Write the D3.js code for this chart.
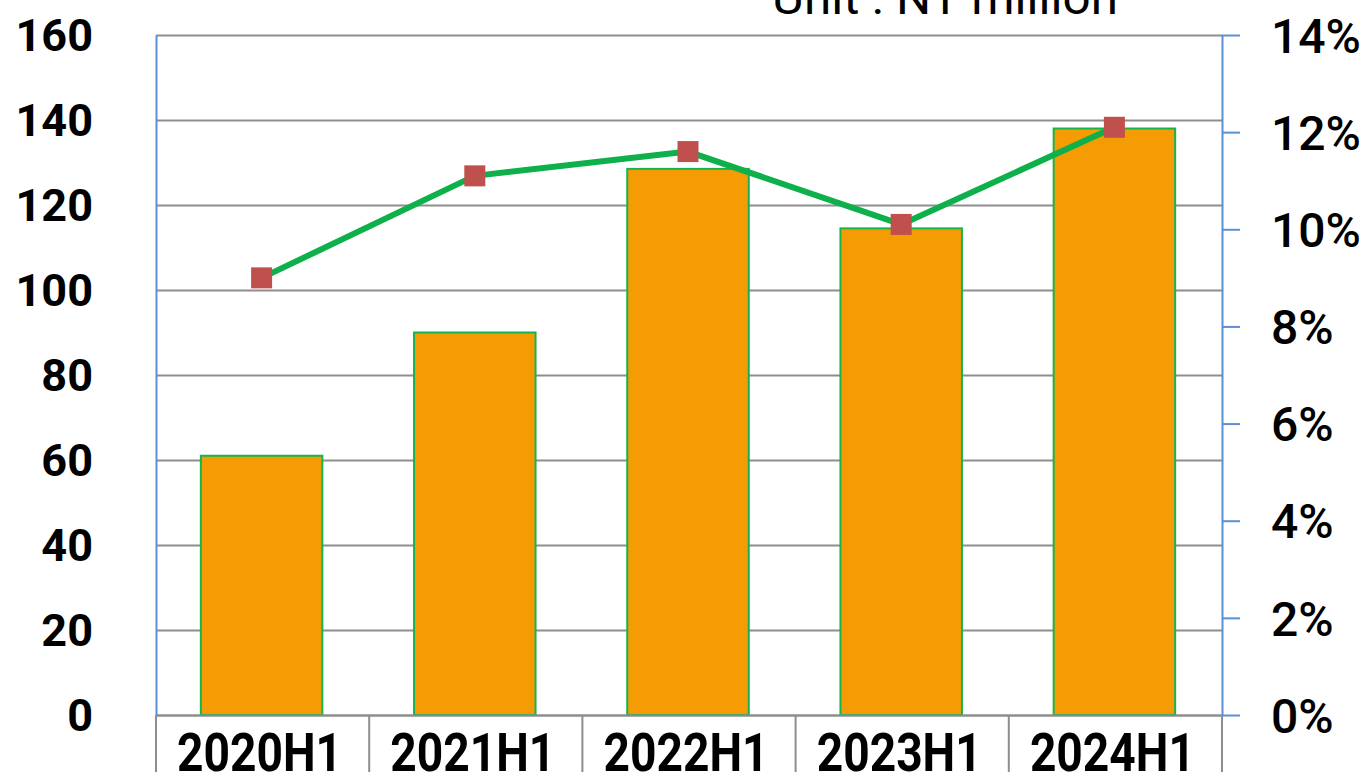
<!DOCTYPE html>
<html>
<head>
<meta charset="utf-8">
<script src="https://cdn.jsdelivr.net/npm/d3@7"></script>
<style>
  html, body { margin: 0; padding: 0; background: #fff; overflow: hidden; }
  svg { display: block; }
</style>
</head>
<body>
<svg id="chart" width="1371" height="772"></svg>
<script>
// ---- data ----
const categories = ["2020H1", "2021H1", "2022H1", "2023H1", "2024H1"];
const revenue = [61, 90, 128.5, 114.5, 138];          // NT million (left axis)
const ratio = [9.0, 11.1, 11.6, 10.1, 12.1];           // percent (right axis)
const leftTicks = [0, 20, 40, 60, 80, 100, 120, 140, 160];
const rightTicks = [0, 2, 4, 6, 8, 10, 12, 14];
const unitLabel = "Unit : NT million";

// ---- layout ----
const W = 1371, H = 772;
const plot = { left: 156, right: 1222, top: 35, bottom: 715 };
const svg = d3.select("#chart");

const x = d3.scaleBand().domain(categories).range([plot.left, plot.right]).paddingInner(0).paddingOuter(0);
const yL = d3.scaleLinear().domain([0, 160]).range([plot.bottom, plot.top]);
const yR = d3.scaleLinear().domain([0, 14]).range([plot.bottom, plot.top]);

// gridlines
const gridAxis = d3.axisLeft(yL).tickValues(leftTicks).tickSize(-(plot.right - plot.left)).tickFormat("");
const grid = svg.append("g").attr("transform", `translate(${plot.left},0)`).call(gridAxis);
grid.select(".domain").remove();
grid.selectAll(".tick line").attr("stroke", "#8e8e8e").attr("stroke-width", 2);

// bars
const barFrac = 0.57;
svg.append("g").selectAll("rect").data(categories).join("rect")
  .attr("x", (d) => x(d) + x.bandwidth() * (1 - barFrac) / 2 - 1)
  .attr("width", x.bandwidth() * barFrac)
  .attr("y", (d, i) => yL(revenue[i]))
  .attr("height", (d, i) => yL(0) - yL(revenue[i]))
  .attr("fill", "#F59B03")
  .attr("stroke", "#14B550")
  .attr("stroke-width", 2);

// bottom category axis (separators below)
const xAxis = d3.axisBottom(x).tickSize(0).tickFormat("");
const gx = svg.append("g").attr("transform", `translate(0,${plot.bottom})`).call(xAxis);
gx.select(".domain").attr("stroke", "#8e8e8e").attr("stroke-width", 2);
const bounds = categories.map(c => x(c)).concat([x(categories[categories.length - 1]) + x.bandwidth()]);
svg.append("g").selectAll("line").data(bounds).join("line")
  .attr("x1", d => d).attr("x2", d => d)
  .attr("y1", plot.bottom).attr("y2", H)
  .attr("stroke", "#8e8e8e").attr("stroke-width", 2);

svg.append("g").selectAll("text").data(categories).join("text")
  .attr("x", d => x(d) + x.bandwidth() / 2 - 3)
  .attr("y", 771)
  .attr("text-anchor", "middle")
  .attr("font-family", "'Liberation Sans Narrow', Roboto, sans-serif")
  .attr("font-weight", "bold")
  .attr("font-size", 53)
  .attr("textLength", 165)
  .attr("lengthAdjust", "spacingAndGlyphs")
  .attr("fill", "#000")
  .text(d => d);

// left axis (blue line, no ticks)
const axL = d3.axisLeft(yL).tickValues(leftTicks).tickSize(0).tickPadding(0).tickFormat(d3.format("d"));
const gL = svg.append("g").attr("transform", `translate(${plot.left},0)`).call(axL);
gL.select(".domain").attr("stroke", "#5B8FD6").attr("stroke-width", 2);
gL.selectAll(".tick text")
  .attr("x", 93 - plot.left)
  .attr("dy", "0.34em")
  .attr("text-anchor", "end")
  .attr("font-family", "Roboto, sans-serif")
  .attr("font-weight", "bold")
  .attr("font-size", 45)
  .attr("fill", "#000");

// right axis (blue line, outward ticks)
const axR = d3.axisRight(yR).tickValues(rightTicks).tickSize(18).tickSizeOuter(0).tickPadding(28).tickFormat(d => d + "%");
const gR = svg.append("g").attr("transform", `translate(${plot.right},0)`).call(axR);
gR.select(".domain").attr("stroke", "#5B8FD6").attr("stroke-width", 2);
gR.selectAll(".tick line").attr("stroke", "#5B8FD6").attr("stroke-width", 2);
gR.selectAll(".tick text")
  .attr("x", 49)
  .attr("dy", "0.36em")
  .attr("font-family", "Roboto, sans-serif")
  .attr("font-weight", 500)
  .attr("font-size", 48)
  .attr("fill", "#000");

// line
const pts = categories.map((c, i) => [x(c) + x.bandwidth() / 2 - 1, yR(ratio[i])]);
svg.append("path")
  .attr("d", d3.line()(pts))
  .attr("fill", "none")
  .attr("stroke", "#0DB04B")
  .attr("stroke-width", 6)
  .attr("stroke-linejoin", "round");

const ms = 21;
svg.append("g").selectAll("rect").data(pts).join("rect")
  .attr("x", d => d[0] - ms / 2)
  .attr("y", d => d[1] - ms / 2)
  .attr("width", ms).attr("height", ms)
  .attr("fill", "#C0504D");

// unit label (cut off at top)
svg.append("text")
  .attr("x", 1118).attr("y", 14)
  .attr("text-anchor", "end")
  .attr("font-family", "Roboto, sans-serif")
  .attr("font-size", 46)
  .attr("textLength", 346)
  .attr("lengthAdjust", "spacingAndGlyphs")
  .attr("fill", "#000")
  .text(unitLabel);
</script>
</body>
</html>
